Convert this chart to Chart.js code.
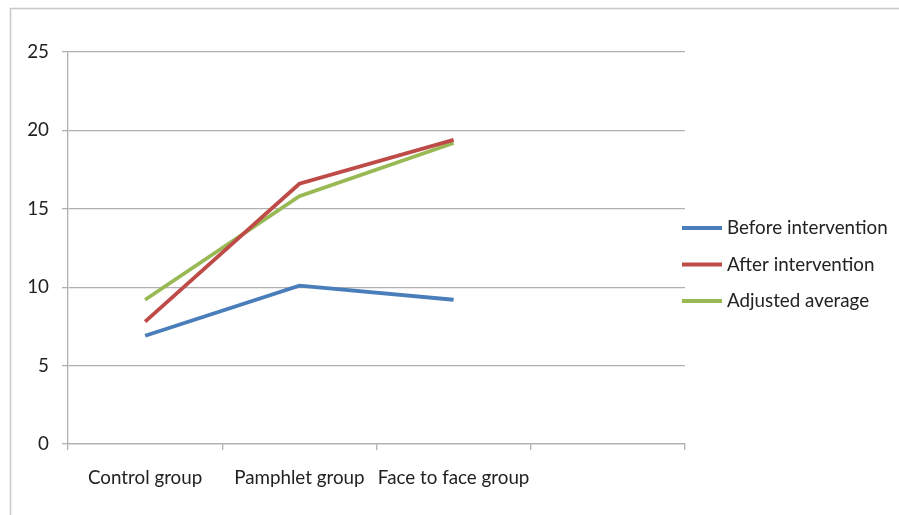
<!DOCTYPE html>
<html>
<head>
<meta charset="utf-8">
<script src="https://cdn.jsdelivr.net/npm/chart.js@4/dist/chart.umd.min.js"></script>
<style>
  html, body { margin: 0; padding: 0; background: #ffffff; }
  #wrap { position: relative; width: 899px; height: 515px; }
</style>
</head>
<body>
<div id="wrap"><canvas id="chart" width="899" height="515"></canvas></div>
<script>
// Group categories (the fourth slot is left empty)
const categories = ['Control group', 'Pamphlet group', 'Face to face group', ''];

// Scores per group
const beforeIntervention = [6.9, 10.1, 9.2, null];
const afterIntervention  = [7.8, 16.6, 19.4, null];
const adjustedAverage    = [9.2, 15.8, 19.2, null];

const seriesNames = ['Before intervention', 'After intervention', 'Adjusted average'];
const yTicks = [0, 5, 10, 15, 20, 25];

const FONT = "Lato, 'Open Sans', 'Liberation Sans', sans-serif";
const FONT_SIZE = 18.8;
const GRID = '#b0b0b0';

// Frame around the whole figure and a legend drawn at the right side
const framePlugin = {
  id: 'frameAndLegend',
  beforeDraw(chart) {
    const ctx = chart.ctx;
    ctx.save();
    ctx.fillStyle = '#ffffff';
    ctx.fillRect(0, 0, chart.width, chart.height);
    ctx.strokeStyle = '#c8c8c8';
    ctx.lineWidth = 1.5;
    ctx.strokeRect(10.5, 8.5, chart.width + 20, chart.height + 20);
    ctx.restore();
  },
  afterDraw(chart) {
    const ctx = chart.ctx;
    const area = chart.chartArea;
    const x0 = area.right - 3;
    const rowGap = 36.5;
    const yStart = 228;
    ctx.save();
    ctx.font = FONT_SIZE + 'px ' + FONT;
    ctx.textBaseline = 'middle';
    chart.data.datasets.forEach((ds, i) => {
      const y = yStart + i * rowGap;
      ctx.strokeStyle = ds.borderColor;
      ctx.lineWidth = 3.8;
      ctx.beginPath();
      ctx.moveTo(x0, y);
      ctx.lineTo(x0 + 40, y);
      ctx.stroke();
      ctx.fillStyle = '#222222';
      ctx.fillText(ds.label, x0 + 45, y);
    });
    ctx.restore();
  }
};

const lineStyle = { borderWidth: 3.8, pointRadius: 0, pointHoverRadius: 0, tension: 0, fill: false, spanGaps: false };

new Chart(document.getElementById('chart'), {
  type: 'line',
  data: {
    labels: categories,
    datasets: [
      Object.assign({ label: seriesNames[0], data: beforeIntervention, borderColor: '#4a7ebb', backgroundColor: '#4a7ebb' }, lineStyle),
      Object.assign({ label: seriesNames[1], data: afterIntervention,  borderColor: '#be4b48', backgroundColor: '#be4b48' }, lineStyle),
      Object.assign({ label: seriesNames[2], data: adjustedAverage,    borderColor: '#98b954', backgroundColor: '#98b954' }, lineStyle)
    ]
  },
  options: {
    responsive: false,
    animation: false,
    layout: { padding: { left: 0, top: 52, right: 214, bottom: 0 } },
    plugins: { legend: { display: false }, tooltip: { enabled: false } },
    scales: {
      x: {
        offset: true,
        grid: { offset: true, drawOnChartArea: false, drawTicks: true, tickLength: 6, color: GRID, lineWidth: 1.3 },
        border: { display: true, color: GRID, width: 1.3 },
        ticks: { autoSkip: false, maxRotation: 0, minRotation: 0, padding: 17, color: '#222222', font: { family: FONT, size: FONT_SIZE } },
        afterFit(scale) { scale.height = 71; }
      },
      y: {
        min: 0,
        max: 25,
        afterBuildTicks(scale) { scale.ticks = yTicks.map(v => ({ value: v })); },
        grid: { color: GRID, lineWidth: 1.3, drawTicks: true, tickLength: 6 },
        border: { display: true, color: GRID, width: 1.3 },
        ticks: { padding: 13, color: '#222222', font: { family: FONT, size: FONT_SIZE } },
        afterFit(scale) { scale.width = 68; }
      }
    }
  },
  plugins: [framePlugin]
});
</script>
</body>
</html>
